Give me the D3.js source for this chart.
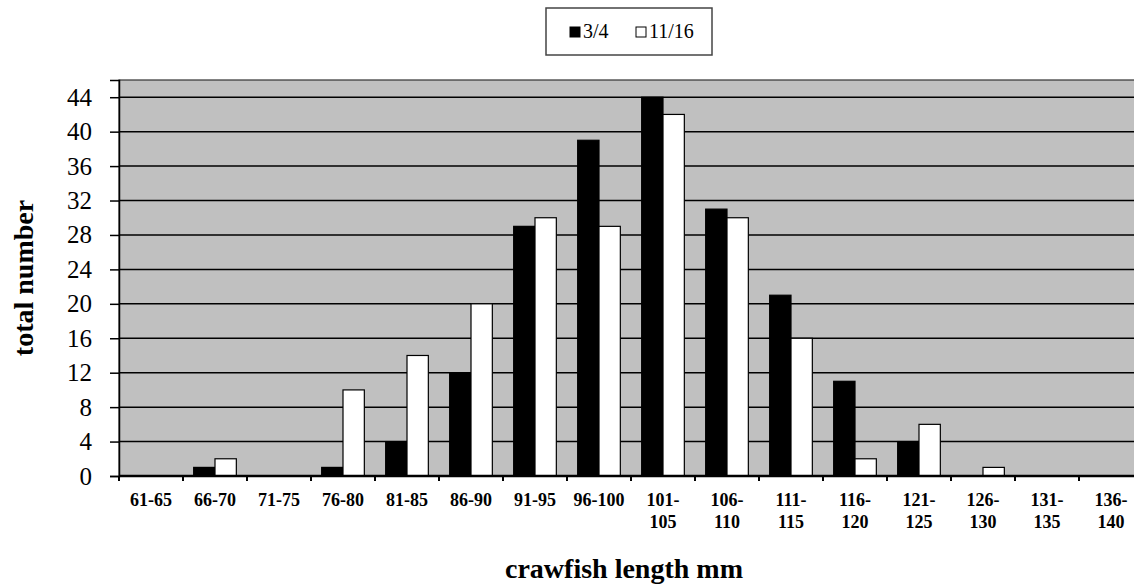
<!DOCTYPE html>
<html>
<head>
<meta charset="utf-8">
<script src="https://cdn.jsdelivr.net/npm/d3@7"></script>
<style>
  html, body { margin: 0; padding: 0; background: #fff; }
  svg { display: block; }
  svg text { font-family: "Liberation Serif", "Times New Roman", serif; }
</style>
</head>
<body>
<div id="chart"></div>
<script>
// length classes (two-line labels where the original wraps)
const categories = ["61-65", "66-70", "71-75", "76-80", "81-85", "86-90", "91-95", "96-100",
  "101-105", "106-110", "111-115", "116-120", "121-125", "126-130", "131-135", "136-140"];
const seriesNames = ["3/4", "11/16"];
const march = [0, 1, 0, 1, 4, 12, 29, 39, 44, 31, 21, 11, 4, 0, 0, 0];
const november = [0, 2, 0, 10, 14, 20, 30, 29, 42, 30, 16, 2, 6, 1, 0, 0];
const yTicks = [0, 4, 8, 12, 16, 20, 24, 28, 32, 36, 40, 44];

(function () {
const width = 1134, height = 586;
const plotLeft = 119, plotTop = 80, plotRight = 1143, plotBottom = 476;

const svg = d3.select("#chart").append("svg")
  .attr("width", width)
  .attr("height", height);

const x0 = d3.scaleBand().domain(categories).range([plotLeft, plotRight]).padding(0);
const x1 = d3.scaleBand().domain(seriesNames).range([0, x0.bandwidth()])
  .paddingInner(0).paddingOuter(0.5);
const y = d3.scaleLinear().domain([0, 46]).range([plotBottom, plotTop]);

const fills = { "3/4": "#000", "11/16": "#fff" };

// plot area
svg.append("rect")
  .attr("x", plotLeft).attr("y", plotTop)
  .attr("width", plotRight - plotLeft).attr("height", plotBottom - plotTop)
  .attr("fill", "#c0c0c0")
  .attr("stroke", "#333").attr("stroke-width", 1.2);

// gridlines
svg.append("g").selectAll("line")
  .data(yTicks.filter(d => d > 0))
  .enter().append("line")
  .attr("x1", plotLeft).attr("x2", plotRight)
  .attr("y1", d => y(d)).attr("y2", d => y(d))
  .attr("stroke", "#000").attr("stroke-width", 1.5);

// bars
const rows = categories.map((c, i) => ({ cat: c, vals: [march[i], november[i]] }));
const groups = svg.append("g").selectAll("g")
  .data(rows)
  .enter().append("g")
  .attr("transform", d => `translate(${x0(d.cat)},0)`);

groups.selectAll("rect")
  .data(d => seriesNames.map((s, k) => ({ s, v: d.vals[k] })))
  .enter().append("rect")
  .attr("x", d => x1(d.s))
  .attr("y", d => y(d.v))
  .attr("width", x1.bandwidth())
  .attr("height", d => y(0) - y(d.v))
  .attr("fill", d => fills[d.s])
  .attr("stroke", "#000").attr("stroke-width", 1.2);

// y axis
const yAxis = d3.axisLeft(y).tickValues(yTicks).tickSize(9).tickPadding(18);
const gy = svg.append("g").attr("transform", `translate(${plotLeft},0)`).call(yAxis);
gy.attr("font-family", null);
gy.select(".domain").attr("stroke", "#000").attr("stroke-width", 1.5);
gy.selectAll(".tick line").attr("stroke", "#000").attr("stroke-width", 1.5);
gy.selectAll(".tick text")
  .style("font-family", "'Liberation Serif', serif")
  .style("font-size", "25px")
  .attr("fill", "#000");

// x axis
const gx = svg.append("g").attr("transform", `translate(0,${plotBottom})`);
gx.append("line")
  .attr("x1", plotLeft).attr("x2", plotRight)
  .attr("stroke", "#000").attr("stroke-width", 2.5);
gx.selectAll(".tk")
  .data(categories)
  .enter().append("line")
  .attr("class", "tk")
  .attr("x1", d => x0(d)).attr("x2", d => x0(d))
  .attr("y1", 0).attr("y2", 5)
  .attr("stroke", "#000").attr("stroke-width", 2);

const lbl = gx.selectAll(".lbl")
  .data(categories)
  .enter().append("text")
  .attr("class", "lbl")
  .attr("text-anchor", "middle")
  .attr("font-weight", "bold")
  .attr("font-size", 18)
  .attr("fill", "#000");
lbl.each(function (d) {
  const cx = x0(d) + x0.bandwidth() / 2;
  const parts = d.length > 6 ? [d.split("-")[0] + "-", d.split("-")[1]] : [d];
  d3.select(this).selectAll("tspan")
    .data(parts)
    .enter().append("tspan")
    .attr("x", cx)
    .attr("y", (p, i) => 30 + i * 22)
    .text(p => p);
});

// axis titles
svg.append("text")
  .attr("x", 624).attr("y", 578)
  .attr("text-anchor", "middle")
  .attr("font-weight", "bold")
  .attr("font-size", 28)
  .text("crawfish length mm");

svg.append("text")
  .attr("transform", `translate(33,${(plotTop + plotBottom) / 2}) rotate(-90)`)
  .attr("text-anchor", "middle")
  .attr("font-weight", "bold")
  .attr("font-size", 28)
  .text("total number");

// legend
const legend = svg.append("g");
legend.append("rect")
  .attr("x", 546).attr("y", 8)
  .attr("width", 166).attr("height", 47)
  .attr("fill", "#fff")
  .attr("stroke", "#444").attr("stroke-width", 1.5);
const items = legend.selectAll(".li")
  .data(seriesNames)
  .enter().append("g")
  .attr("class", "li")
  .attr("transform", (d, i) => `translate(${570 + i * 66},27)`);
items.append("rect")
  .attr("width", 10).attr("height", 10)
  .attr("fill", d => fills[d])
  .attr("stroke", "#000").attr("stroke-width", 1);
items.append("text")
  .attr("x", 13).attr("y", 11)
  .attr("font-size", 20)
  .text(d => d);
})();
</script>
</body>
</html>
